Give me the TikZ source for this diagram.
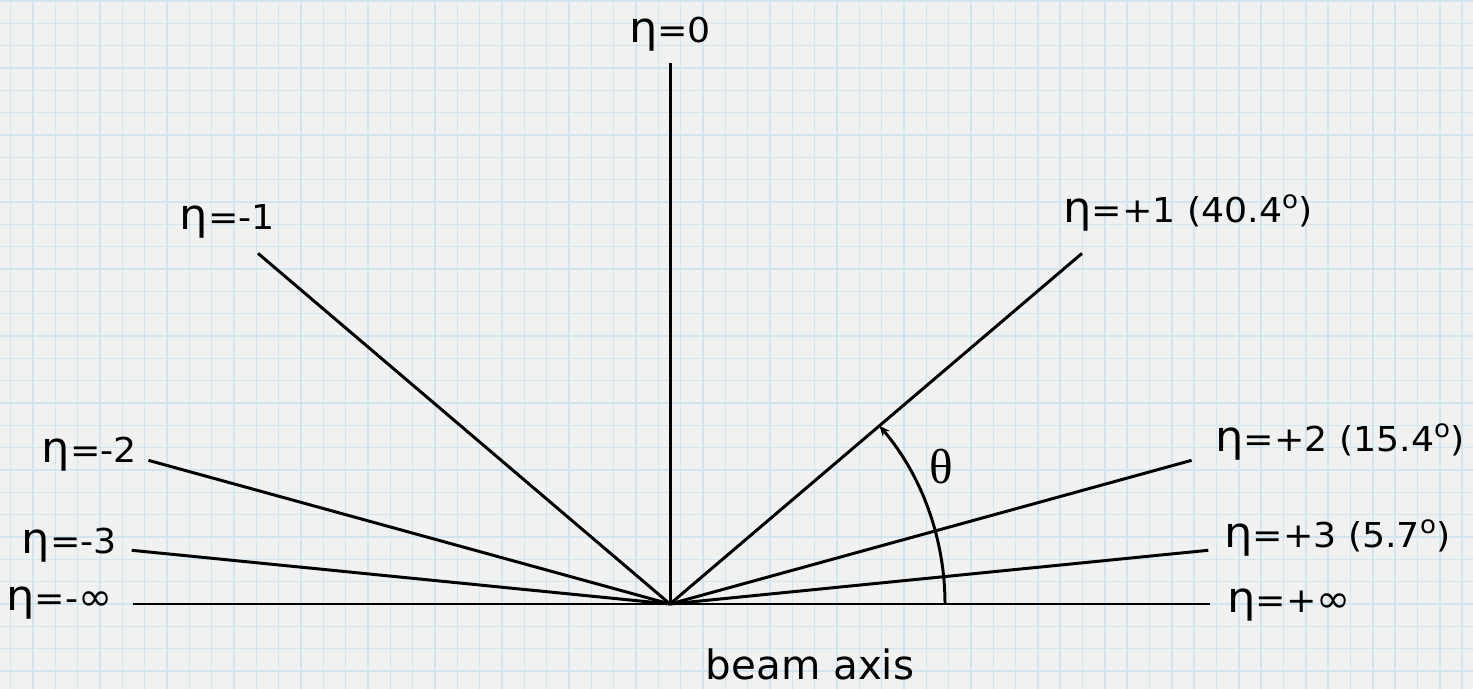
\documentclass[tikz,border=0pt]{standalone}
\usepackage{fontspec}
\setmainfont{DejaVu Sans}
\newfontfamily\labelfont[FakeStretch=1.06]{DejaVu Sans}
\newfontfamily\thetafont{Liberation Serif}
\usetikzlibrary{arrows.meta}
\definecolor{paper}{RGB}{242,241,241}
\definecolor{gridblue}{RGB}{210,228,238}
\newcommand{\etasign}{{\fontsize{24}{24}\selectfont η}}
\newcommand{\infsign}{{\fontsize{22}{22}\selectfont ∞}}
\newcommand{\degsign}{\raisebox{0.42em}{\fontsize{14}{14}\selectfont o}}

\begin{document}
\begin{tikzpicture}[x=0.02cm,y=0.02cm,
  gridline/.style={gridblue,line width=0.8pt},
  gridmajor/.style={gridblue,line width=1.5pt},
  ray/.style={line width=1.7pt},
  lbl/.style={font=\labelfont\fontsize{19.5}{22}\selectfont,inner sep=0pt}]
  \useasboundingbox (0,0) rectangle (1473,689);
  % graph paper
  \fill[paper] (0,0) rectangle (1473,689);
  \foreach \j in {-1,...,64}
    \draw[gridline] ({33+22.33*\j},0) -- ++(0,689);
  \foreach \j in {-3,...,27}
    \draw[gridline] (0,{621-22.33*\j}) -- ++(1473,0);
  \foreach \j in {0,6,...,60}
    \draw[gridmajor] ({33+22.33*\j},0) -- ++(0,689);
  \foreach \j in {0,6,...,24}
    \draw[gridmajor] (0,{621-22.33*\j}) -- ++(1473,0);

  % rays from the interaction point
  \coordinate (O) at (670,85);
  \begin{scope}[shift={(O)}]
    \coordinate (r0) at (90:541);
    \coordinate (rp1) at (40.4:541);
    \coordinate (rm1) at (139.6:541);
    \coordinate (rp2) at (15.4:541);
    \coordinate (rm2) at (164.6:541);
    \coordinate (rp3) at (5.7:541);
    \coordinate (rm3) at (174.3:541);
    \coordinate (rpinf) at (0:540);
    \coordinate (rminf) at (180:537);
    \coordinate (a0) at (0:275);
  \end{scope}
  \draw[ray] (O) -- (r0);
  \draw[ray] (O) -- (rp1);
  \draw[ray] (O) -- (rm1);
  \draw[ray] (O) -- (rp2);
  \draw[ray] (O) -- (rm2);
  \draw[ray] (O) -- (rp3);
  \draw[ray] (O) -- (rm3);
  \draw[ray] (rminf) -- (rpinf);

  % polar angle
  \draw[ray,-{Stealth[length=6pt,width=5pt]}] (a0) arc[start angle=0,end angle=40.4,radius=275];
  \node[font=\thetafont\fontsize{28}{28}\selectfont] (theta) at (941,222) {θ};

  % labels
  \node[lbl,anchor=base] (l0) at (670,646) {\etasign=0};
  \node[lbl,anchor=base east] (lm1) at (275,459) {\etasign=-1};
  \node[lbl,anchor=base west] (lp1) at (1063,466) {\etasign=+1 (40.4\degsign)};
  \node[lbl,anchor=base east] (lm2) at (137,226) {\etasign=-2};
  \node[lbl,anchor=base west] (lp2) at (1215,237) {\etasign=+2 (15.4\degsign)};
  \node[lbl,anchor=base east] (lm3) at (117,135) {\etasign=-3};
  \node[lbl,anchor=base west] (lp3) at (1224,141) {\etasign=+3 (5.7\degsign)};
  \node[lbl,anchor=base east] (lminf) at (113,78) {\etasign=-\infsign};
  \node[lbl,anchor=base west] (lpinf) at (1227,76) {\etasign=+\infsign};
  \node[font=\fontsize{23}{26}\selectfont,inner sep=0pt,anchor=base] (beam) at (810,9) {beam axis};
\end{tikzpicture}
\end{document}
